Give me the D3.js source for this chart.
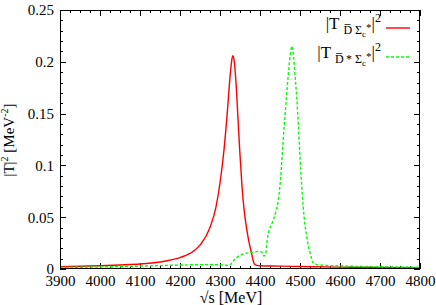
<!DOCTYPE html>
<html><head><meta charset="utf-8">
<script src="https://cdn.jsdelivr.net/npm/d3@7"></script>
<style>body{margin:0;background:#fff}svg{display:block}text{font-family:"Liberation Serif","Times New Roman",serif}</style>
</head><body>
<svg id="c" width="436" height="305"></svg>
<script>
const xTicks = [3900,4000,4100,4200,4300,4400,4500,4600,4700,4800];
const yTicks = [0,0.05,0.1,0.15,0.2,0.25];
const yTickLabels = ["0","0.05","0.1","0.15","0.2","0.25"];

const redX = [3900,3950,4000,4050,4100,4150,4200,4225,4250,4275,4290,4300,4310,4318,4325,4330,4332,4335,4340,4345,4350,4355,4360,4367,4373,4379,4383,4386,4392,4400,4450,4500,4600,4700,4800];
const redY = [0.0022,0.0027,0.0032,0.0039,0.0048,0.0068,0.0110,0.0150,0.0230,0.0400,0.0600,0.0830,0.1150,0.1500,0.1850,0.2030,0.2060,0.2020,0.1800,0.1450,0.1100,0.0800,0.0580,0.0380,0.0250,0.0150,0.0080,0.0050,0.0035,0.0032,0.0028,0.0024,0.0018,0.0014,0.0011];

const greenX = [3900,4000,4100,4200,4250,4300,4315,4323,4330,4337,4345,4355,4365,4380,4395,4404,4410,4414,4418,4422,4430,4440,4446,4452,4458,4465,4471,4476,4480,4484,4488,4492,4496,4500,4504,4508,4512,4517,4521,4525,4529,4533,4545,4600,4700,4800];
const greenY = [0.0015,0.0020,0.0028,0.0038,0.0042,0.0040,0.0036,0.0034,0.0060,0.0095,0.0120,0.0140,0.0152,0.0160,0.0170,0.0165,0.0125,0.0140,0.0280,0.0360,0.0440,0.0560,0.0670,0.0900,0.1250,0.1600,0.1890,0.2080,0.2150,0.2050,0.1850,0.1650,0.1380,0.1080,0.0820,0.0600,0.0440,0.0310,0.0220,0.0160,0.0100,0.0060,0.0040,0.0030,0.0022,0.0018];

const svg = d3.select("#c");
const L=60,R=420,T=10,B=269;
const x = d3.scaleLinear().domain([3900,4800]).range([L,R]);
const y = d3.scaleLinear().domain([0,0.25]).range([B,T]);

const g = svg.append("g");
const xMinor = d3.range(3900,4801,25);
const yMinor = d3.range(0,0.2501,0.01);
const tk = g.append("g").attr("stroke","#000").attr("stroke-width",1);
xMinor.forEach(v=>{
  const major = xTicks.includes(Math.round(v));
  const len = major?6:3;
  const px = Math.round(x(v))+0.5;
  tk.append("line").attr("x1",px).attr("x2",px).attr("y1",B).attr("y2",B-len);
  tk.append("line").attr("x1",px).attr("x2",px).attr("y1",T).attr("y2",T+len);
});
yMinor.forEach(v=>{
  const major = Math.abs(v*20-Math.round(v*20))<1e-6;
  const len = major?6:3;
  const py = Math.round(y(v))+0.5;
  tk.append("line").attr("x1",L).attr("x2",L+len).attr("y1",py).attr("y2",py);
  tk.append("line").attr("x1",R).attr("x2",R-len).attr("y1",py).attr("y2",py);
});

const xa = g.append("g").attr("transform",`translate(0,${B})`)
  .call(d3.axisBottom(x).tickValues(xTicks).tickSize(0).tickPadding(6).tickFormat(d3.format("d")));
xa.select(".domain").remove();
xa.selectAll("text").attr("font-size",15).attr("fill","#000").attr("font-family","Liberation Serif");
const ya = g.append("g").attr("transform",`translate(${L},0)`)
  .call(d3.axisLeft(y).tickValues(yTicks).tickSize(0).tickPadding(6).tickFormat((d,i)=>yTickLabels[i]));
ya.select(".domain").remove();
ya.selectAll("text").attr("font-size",15).attr("fill","#000").attr("font-family","Liberation Serif");

const line = d3.line().x(d=>x(d[0])).y(d=>y(d[1])).curve(d3.curveMonotoneX);
svg.append("clipPath").attr("id","cp").append("rect").attr("x",L).attr("y",T).attr("width",R-L).attr("height",B-T);
svg.append("path").datum(redX.map((v,i)=>[v,redY[i]])).attr("d",line)
  .attr("fill","none").attr("stroke","#ff0000").attr("stroke-width",1.4).attr("clip-path","url(#cp)");
svg.append("path").datum(greenX.map((v,i)=>[v,greenY[i]])).attr("d",line)
  .attr("fill","none").attr("stroke","#00ff00").attr("stroke-width",1.4).attr("stroke-dasharray","3,2").attr("clip-path","url(#cp)");

svg.append("rect").attr("x",L+0.5).attr("y",T+0.5).attr("width",R-L-1).attr("height",B-T-1)
  .attr("fill","none").attr("stroke","#000").attr("stroke-width",1);

function legendText(yb, star){
  const t = svg.append("text").attr("x",381).attr("y",yb).attr("text-anchor","end").attr("font-size",17).attr("fill","#000");
  t.append("tspan").text("|T ");
  const s = t.append("tspan").attr("font-size",12).attr("dy",5);
  s.text(star ? "D\u0305\u2009* \u03A3" : "D\u0305 \u03A3");
  t.append("tspan").attr("font-size",9).attr("dy",3).text("c");
  t.append("tspan").attr("font-size",11).attr("dy",-6).text("*");
  t.append("tspan").attr("dy",-2).text("|");
  t.append("tspan").attr("font-size",12).attr("dy",-7).text("2");
}
legendText(29,false);
legendText(58,true);
svg.append("line").attr("x1",386).attr("x2",410).attr("y1",28).attr("y2",28).attr("stroke","#ff0000").attr("stroke-width",1.4);
svg.append("line").attr("x1",386).attr("x2",410).attr("y1",57).attr("y2",57).attr("stroke","#00ff00").attr("stroke-width",1.4).attr("stroke-dasharray","3,2");

const xt = svg.append("text").attr("x",231).attr("y",303).attr("text-anchor","middle").attr("font-size",16).attr("fill","#000");
xt.text("\u221As [MeV]");
const yt = svg.append("text").attr("transform","translate(14,140) rotate(-90)").attr("text-anchor","middle").attr("font-size",15).attr("fill","#000");
yt.append("tspan").text("|T|");
yt.append("tspan").attr("font-size",10).attr("dy",-6).text("2");
yt.append("tspan").attr("dy",6).text(" [MeV");
yt.append("tspan").attr("font-size",10).attr("dy",-6).text("-2");
yt.append("tspan").attr("dy",6).text("]");
</script>
</body></html>
